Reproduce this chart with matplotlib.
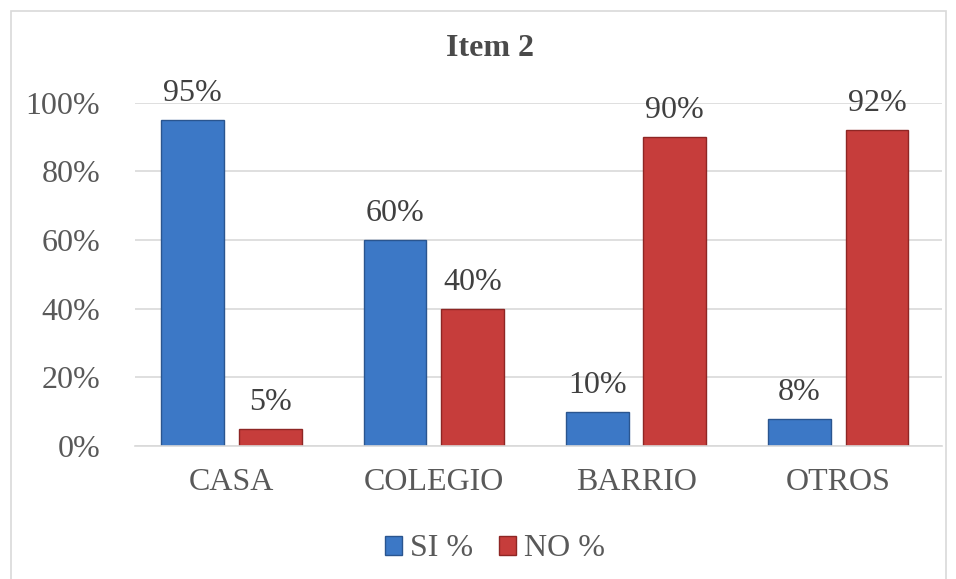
import matplotlib.pyplot as plt
from matplotlib.patches import Rectangle
import numpy as np

categories = ["CASA", "COLEGIO", "BARRIO", "OTROS"]
si_vals = [0.95, 0.60, 0.10, 0.08]
no_vals = [0.05, 0.40, 0.90, 0.92]
si_labels = ["95%", "60%", "10%", "8%"]
no_labels = ["5%", "40%", "90%", "92%"]

plt.rcParams['font.family'] = ['Liberation Serif', 'DejaVu Serif']

fig = plt.figure(figsize=(9.56, 5.79), dpi=100)
ax = fig.add_axes([0.141, 0.2297, 0.844, 0.5927])

# chart border
fig.patches.append(Rectangle((11/956, -0.01), 935/956, 1 - 11/579 + 0.01,
                             transform=fig.transFigure, fill=False,
                             edgecolor='#d9d9d9', linewidth=1.2))

x = np.arange(len(categories))
w = 0.31
b1 = ax.bar(x - 0.193, si_vals, w, color='#3c78c6', edgecolor='#2a558f', linewidth=1.0, label='SI %')
b2 = ax.bar(x + 0.19, no_vals, w, color='#c63d3b', edgecolor='#8e2624', linewidth=1.0, label='NO %')

for rect, lab in zip(b1, si_labels):
    ax.text(rect.get_x() + rect.get_width()/2, rect.get_height() + 0.035, lab,
            ha='center', va='bottom', fontsize=23, color='#404040')
for rect, lab in zip(b2, no_labels):
    ax.text(rect.get_x() + rect.get_width()/2, rect.get_height() + 0.035, lab,
            ha='center', va='bottom', fontsize=23, color='#404040')

ax.set_xlim(-0.48, 3.51)
ax.set_ylim(0, 1.0)
ax.set_yticks([0, 0.2, 0.4, 0.6, 0.8, 1.0])
ax.set_yticklabels(["0%", "20%", "40%", "60%", "80%", "100%"])
ax.set_xticks(x)
ax.set_xticklabels(categories)
ax.tick_params(axis='both', length=0, labelsize=23, labelcolor='#595959')
ax.tick_params(axis='y', pad=25)
ax.tick_params(axis='x', pad=16)
ax.grid(axis='y', color='#d9d9d9', linewidth=1.2)
ax.set_axisbelow(True)
for s in ['top', 'right', 'left']:
    ax.spines[s].set_visible(False)
ax.spines['bottom'].set_color('#d9d9d9')
ax.spines['bottom'].set_linewidth(1.2)

fig.text(490/956, 1 - 49/579, "Item 2", fontsize=23, fontweight='bold',
         color='#4a4a4a', ha='center', va='center')

fig.legend(handles=[b1, b2], loc='center', bbox_to_anchor=(495/956, 1 - 549/579), ncol=2,
           frameon=False, fontsize=23, handlelength=0.55, handleheight=0.55,
           handletextpad=0.25, columnspacing=0.8, labelcolor='#595959')

fig.savefig("out.png", dpi=100)
